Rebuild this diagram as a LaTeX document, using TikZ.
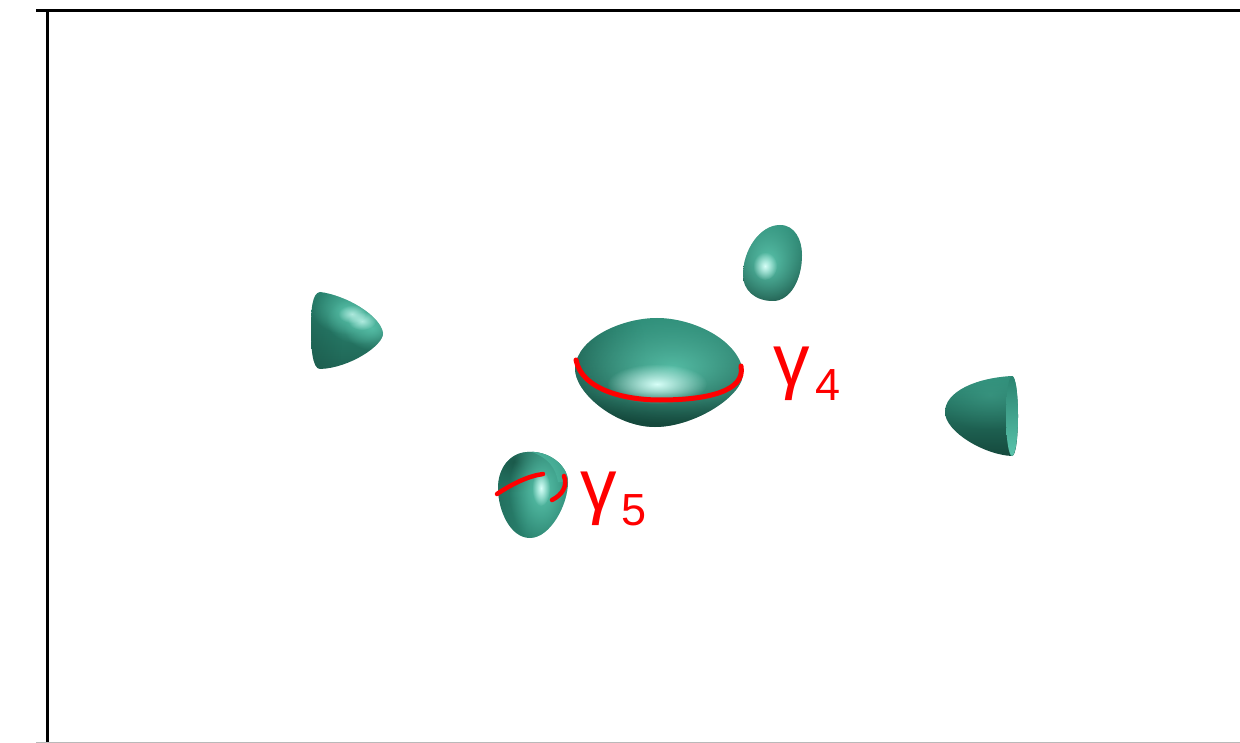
\documentclass[tikz,border=0pt]{standalone}
\usepackage{fontspec}
\setmainfont{Liberation Sans}
\usetikzlibrary{fadings}

\definecolor{tealmid}{RGB}{46,142,121}
\definecolor{tealdk}{RGB}{20,70,58}
\definecolor{teallt}{RGB}{90,196,172}
\definecolor{tealhl}{RGB}{215,255,248}
\definecolor{curvered}{RGB}{255,0,0}

\tikzfading[name=glow, inner color=transparent!0, outer color=transparent!100]

\tikzset{
  frameline/.style={line width=3pt, black},
  cutcurve/.style={curvered, line width=5pt, line cap=round},
  gammalabel/.style={text=curvered, inner sep=0pt, anchor=base west,
    font=\fontsize{73}{73}\selectfont},
  indexlabel/.style={text=curvered, inner sep=0pt, anchor=base west,
    font=\fontsize{45}{45}\selectfont},
}

\begin{document}
\begin{tikzpicture}[x=1pt,y=-1pt]
\useasboundingbox (0,0) rectangle (1240,743);

% axes frame
\draw[frameline] (36,11) -- (1240,11);
\draw[frameline] (47.3,10) -- (47.3,743);
\draw[gray!55, line width=1pt] (36,742.4) -- (1240,742.4);

% central lobe: rounded dome on top, darker underside
\begin{scope}
  \clip (575,368) .. controls (577,338) and (622,318) .. (657,318)
        .. controls (693,318) and (739,340) .. (743,372)
        .. controls (745,395) and (695,427) .. (655,427)
        .. controls (615,427) and (574,392) .. (575,368) -- cycle;
  \shade[top color=tealmid, middle color=tealmid!85!tealdk, bottom color=tealdk]
    (570,315) rectangle (750,432);
  \fill[tealdk, opacity=.35, path fading=glow] (575,350) ellipse (70 and 80);
  \fill[teallt, opacity=.9, path fading=glow] (672,368) ellipse (110 and 56);
  \fill[tealhl, path fading=glow] (657,384) ellipse (50 and 20);
  \fill[tealdk, opacity=.6, path fading=glow] (655,436) ellipse (150 and 44);
\end{scope}
\draw[cutcurve] (576,360) .. controls (582,390) and (625,400) .. (660,400)
                .. controls (705,400) and (746,392) .. (741,366);

% upper small egg
\begin{scope}
  \clip (780,225) .. controls (795,225) and (802,240) .. (802,255)
        .. controls (802,280) and (790,301) .. (773,301)
        .. controls (755,301) and (743,290) .. (743,275)
        .. controls (743,250) and (760,225) .. (780,225) -- cycle;
  \shade[top color=tealmid, middle color=tealmid, bottom color=tealdk]
    (740,222) rectangle (805,304);
  \fill[teallt, path fading=glow] (768,262) ellipse (44 and 52);
  \fill[tealhl, path fading=glow] (765,266) ellipse (12 and 14);
\end{scope}

% left cap, lit along a diagonal streak
\begin{scope}
  \clip (320,292) .. controls (345,295) and (380,315) .. (383,333)
        .. controls (384,345) and (350,368) .. (320,369)
        .. controls (312,369) and (311,345) .. (311,330)
        .. controls (311,310) and (312,293) .. (320,292) -- cycle;
  \shade[top color=tealmid, middle color=tealmid, bottom color=tealdk!60!tealmid]
    (305,288) rectangle (390,372);
  \fill[tealdk, opacity=.35, path fading=glow] (306,335) ellipse (36 and 90);
  \fill[teallt, opacity=.8, path fading=glow] (346,310) ellipse (34 and 24);
  \fill[teallt, opacity=.8, path fading=glow] (360,320) ellipse (34 and 24);
  \fill[teallt, opacity=.8, path fading=glow] (372,328) ellipse (28 and 22);
  \fill[tealhl, opacity=.7, path fading=glow] (352,314) ellipse (14 and 9);
  \fill[tealhl, opacity=.7, path fading=glow] (362,321) ellipse (14 and 9);
\end{scope}

% right open cup
\begin{scope}
  \clip (1012,376) .. controls (975,378) and (945,392) .. (945,412)
        .. controls (945,432) and (985,455) .. (1012,456)
        .. controls (1020,456) and (1020,376) .. (1012,376) -- cycle;
  \shade[top color=tealmid, middle color=tealmid!82!tealdk, bottom color=tealdk]
    (940,372) rectangle (1022,460);
  \fill[teallt, opacity=.3, path fading=glow] (990,395) ellipse (60 and 35);
  \shade[top color=tealmid!85!tealdk, bottom color=teallt] (1012,416) ellipse (6 and 40);
\end{scope}

% lower egg with its opening
\begin{scope}
  \clip (527,452) .. controls (548,450) and (568,465) .. (568,482)
        .. controls (568,505) and (550,538) .. (530,538)
        .. controls (510,538) and (498,510) .. (498,488)
        .. controls (498,468) and (510,453) .. (527,452) -- cycle;
  \shade[top color=tealmid, middle color=tealmid, bottom color=tealmid!80!tealdk]
    (495,448) rectangle (572,542);
  \fill[tealdk, opacity=.35, path fading=glow] (498,500) ellipse (30 and 80);
  \fill[tealdk, opacity=.7, path fading=glow] (515,462) ellipse (44 and 30);
  \fill[tealmid!70!teallt] (532,452) .. controls (548,458) and (556,468) .. (558,482)
        -- (572,482) -- (572,448) -- cycle;
  \fill[teallt, path fading=glow] (541,490) ellipse (32 and 56);
  \fill[tealhl, path fading=glow] (541,488) ellipse (9 and 18);
\end{scope}
\draw[cutcurve, line width=4.5pt] (497,494) .. controls (512,484) and (528,476) .. (543,474);
\draw[cutcurve, line width=4.5pt] (564,476) .. controls (568,486) and (562,495) .. (552,500);

% labels
\node[gammalabel] (g4) at (773,385) {γ};
\node[indexlabel] (i4) at (815,400) {4};
\node[gammalabel] (g5) at (580,510) {γ};
\node[indexlabel] (i5) at (621,525) {5};
\end{tikzpicture}
\end{document}
